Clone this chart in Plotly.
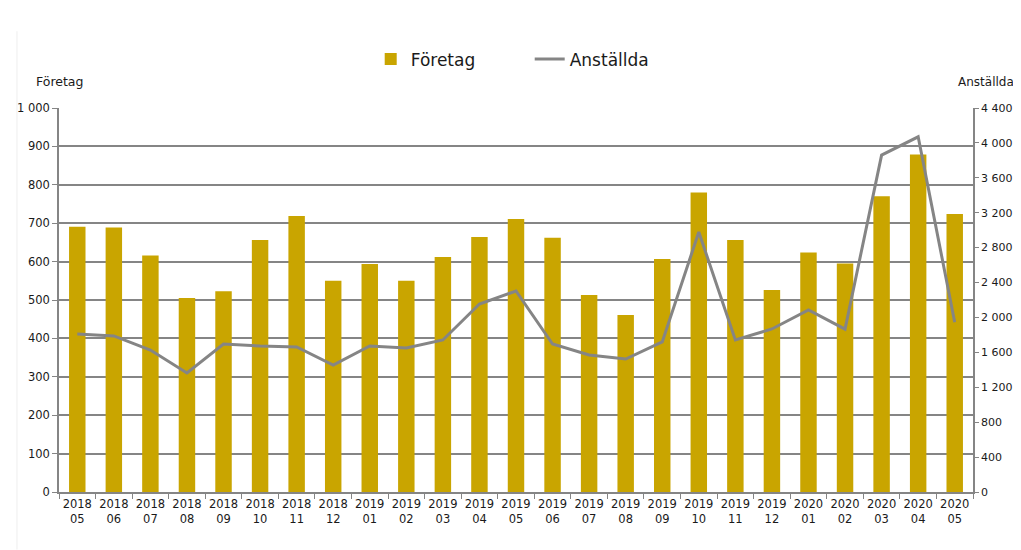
import plotly.graph_objects as go

months = ["2018<br>05","2018<br>06","2018<br>07","2018<br>08","2018<br>09","2018<br>10","2018<br>11","2018<br>12",
          "2019<br>01","2019<br>02","2019<br>03","2019<br>04","2019<br>05","2019<br>06","2019<br>07","2019<br>08",
          "2019<br>09","2019<br>10","2019<br>11","2019<br>12","2020<br>01","2020<br>02","2020<br>03","2020<br>04","2020<br>05"]
foretag = [691, 689, 616, 505, 523, 656, 719, 550, 594, 550, 612, 664, 711, 662, 513, 461,
           607, 780, 656, 526, 624, 595, 770, 879, 724]
anstallda = [1810, 1788, 1627, 1364, 1696, 1673, 1662, 1455, 1673, 1650, 1742, 2154, 2303, 1696, 1570, 1524,
             1719, 2979, 1742, 1868, 2085, 1866, 3860, 4070, 1945]

GOLD = "#C9A500"
GRAY = "#858585"
FONT = "DejaVu Sans"

fig = go.Figure()
fig.add_trace(go.Bar(x=months, y=foretag, name="Företag", marker_color=GOLD, marker_line_width=0,
                     width=0.45, yaxis="y"))
fig.add_trace(go.Scatter(x=months, y=anstallda, name="Anställda", mode="lines",
                         line=dict(color=GRAY, width=3), yaxis="y2"))

fig.update_layout(
    width=1013, height=542,
    margin=dict(l=51, r=48, t=100, b=58, autoexpand=False),
    plot_bgcolor="white", paper_bgcolor="white",
    separators=", ",
    font=dict(family=FONT, size=11.5, color="#1a1a1a"),
    showlegend=True,
    legend=dict(orientation="h", x=0.515, xanchor="center", yref="container", y=0.905, yanchor="middle",
                font=dict(size=17, family=FONT), traceorder="normal",
                entrywidth=114, entrywidthmode="pixels"),
    xaxis=dict(type="category", tickson="boundaries", ticks="outside", ticklen=5, tickcolor=GRAY,
               showline=True, linecolor=GRAY, linewidth=1.5, showgrid=False, tickangle=0,
               automargin=False, tickfont=dict(size=11.5, family=FONT)),
    yaxis=dict(range=[0, 1000], dtick=100, tickformat=",d", showgrid=True, gridcolor=GRAY, gridwidth=1.5,
               showline=True, linecolor=GRAY, linewidth=1.5, ticks="outside", ticklen=5, tickcolor=GRAY,
               zeroline=False, automargin=False, tickfont=dict(size=11.5, family=FONT)),
    yaxis2=dict(range=[0, 4400], dtick=400, tickformat=",d", overlaying="y", side="right", showgrid=False,
                showline=True, linecolor=GRAY, linewidth=1.5, ticks="outside", ticklen=4, tickcolor=GRAY,
                zeroline=False, automargin=False, tickfont=dict(size=11, family=FONT)),
    bargap=0.55,
)

fig.add_annotation(text="Företag", xref="paper", yref="paper", x=0.0, y=1.045, xanchor="center",
                   yanchor="bottom", showarrow=False, font=dict(size=12.5, family=FONT))
fig.add_annotation(text="Anställda", xref="paper", yref="paper", x=1.047, y=1.045, xanchor="right",
                   yanchor="bottom", showarrow=False, font=dict(size=12, family=FONT))
fig.add_shape(type="line", xref="paper", yref="paper", x0=-0.046, x1=-0.046, y0=-0.15, y1=1.2,
              line=dict(color="#eeeeee", width=1))

fig.write_html("out.html")
